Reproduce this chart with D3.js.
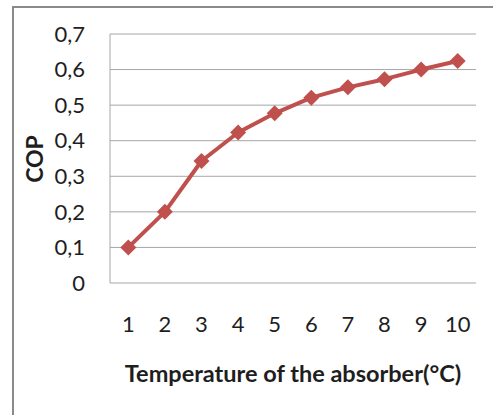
<!DOCTYPE html>
<html>
<head>
<meta charset="utf-8">
<script src="https://cdn.jsdelivr.net/npm/d3@7"></script>
<style>
  body { margin: 0; background: #fff; }
  svg { display: block; }
  text { font-family: Lato, "Open Sans", sans-serif; fill: #1e1e1e; }
</style>
</head>
<body>
<svg id="chart" width="493" height="415"></svg>
<script>
var categories = [1, 2, 3, 4, 5, 6, 7, 8, 9, 10];
var cop = [0.1, 0.2, 0.343, 0.423, 0.477, 0.521, 0.55, 0.573, 0.6, 0.624];
var yTicks = [0, 0.1, 0.2, 0.3, 0.4, 0.5, 0.6, 0.7];

var svg = d3.select("#chart");
var plotLeft = 110, plotRight = 476, plotTop = 34, plotBottom = 283;

// outer chart frame (only top and left edges are in view)
svg.append("path")
    .attr("d", "M 13 415 L 13 7 L 493 7")
    .attr("fill", "none")
    .attr("stroke", "#8a8a8a")
    .attr("stroke-width", 2);

var x = d3.scaleBand().domain(categories).range([plotLeft, plotRight]);
var y = d3.scaleLinear().domain([0, 0.7]).range([plotBottom, plotTop]);

// gridlines
svg.append("g").selectAll("line")
    .data(yTicks)
    .enter().append("line")
    .attr("x1", plotLeft).attr("x2", plotRight)
    .attr("y1", function(d){ return y(d); })
    .attr("y2", function(d){ return y(d); })
    .attr("stroke", "#a6a6a6")
    .attr("stroke-width", 1);

svg.append("line")
    .attr("x1", plotLeft).attr("x2", plotLeft)
    .attr("y1", plotTop).attr("y2", plotBottom)
    .attr("stroke", "#a6a6a6");

// y tick labels
svg.append("g").selectAll("text")
    .data(yTicks)
    .enter().append("text")
    .attr("x", 85)
    .attr("y", function(d){ return y(d); })
    .attr("dy", "0.35em")
    .attr("text-anchor", "end")
    .attr("font-size", 22)
    .text(function(d){ return d === 0 ? "0" : d3.format(".1f")(d).replace(".", ","); });

// x tick labels
svg.append("g").selectAll("text")
    .data(categories)
    .enter().append("text")
    .attr("x", function(d){ return x(d) + x.bandwidth() / 2; })
    .attr("y", 324)
    .attr("dy", "0.35em")
    .attr("text-anchor", "middle")
    .attr("font-size", 22)
    .text(function(d){ return d; });

// axis titles
svg.append("text")
    .attr("x", 293).attr("y", 374)
    .attr("dy", "0.35em")
    .attr("text-anchor", "middle")
    .attr("font-size", 23.5)
    .attr("font-weight", "bold")
    .text("Temperature of the absorber(°C)");

svg.append("text")
    .attr("transform", "translate(35,159) rotate(-90)")
    .attr("dy", "0.35em")
    .attr("text-anchor", "middle")
    .attr("font-size", 23)
    .attr("font-weight", "bold")
    .text("COP");

// series
var line = d3.line()
    .x(function(d, i){ return x(categories[i]) + x.bandwidth() / 2; })
    .y(function(d){ return y(d); });

svg.append("path")
    .datum(cop)
    .attr("d", line)
    .attr("fill", "none")
    .attr("stroke", "#c0504d")
    .attr("stroke-width", 4)
    .attr("stroke-linejoin", "round");

svg.append("g").selectAll("path")
    .data(cop)
    .enter().append("path")
    .attr("d", d3.symbol().type(d3.symbolSquare).size(128))
    .attr("transform", function(d, i){
        return "translate(" + (x(categories[i]) + x.bandwidth() / 2) + "," + y(d) + ") rotate(45)";
    })
    .attr("fill", "#c0504d");
</script>
</body>
</html>
